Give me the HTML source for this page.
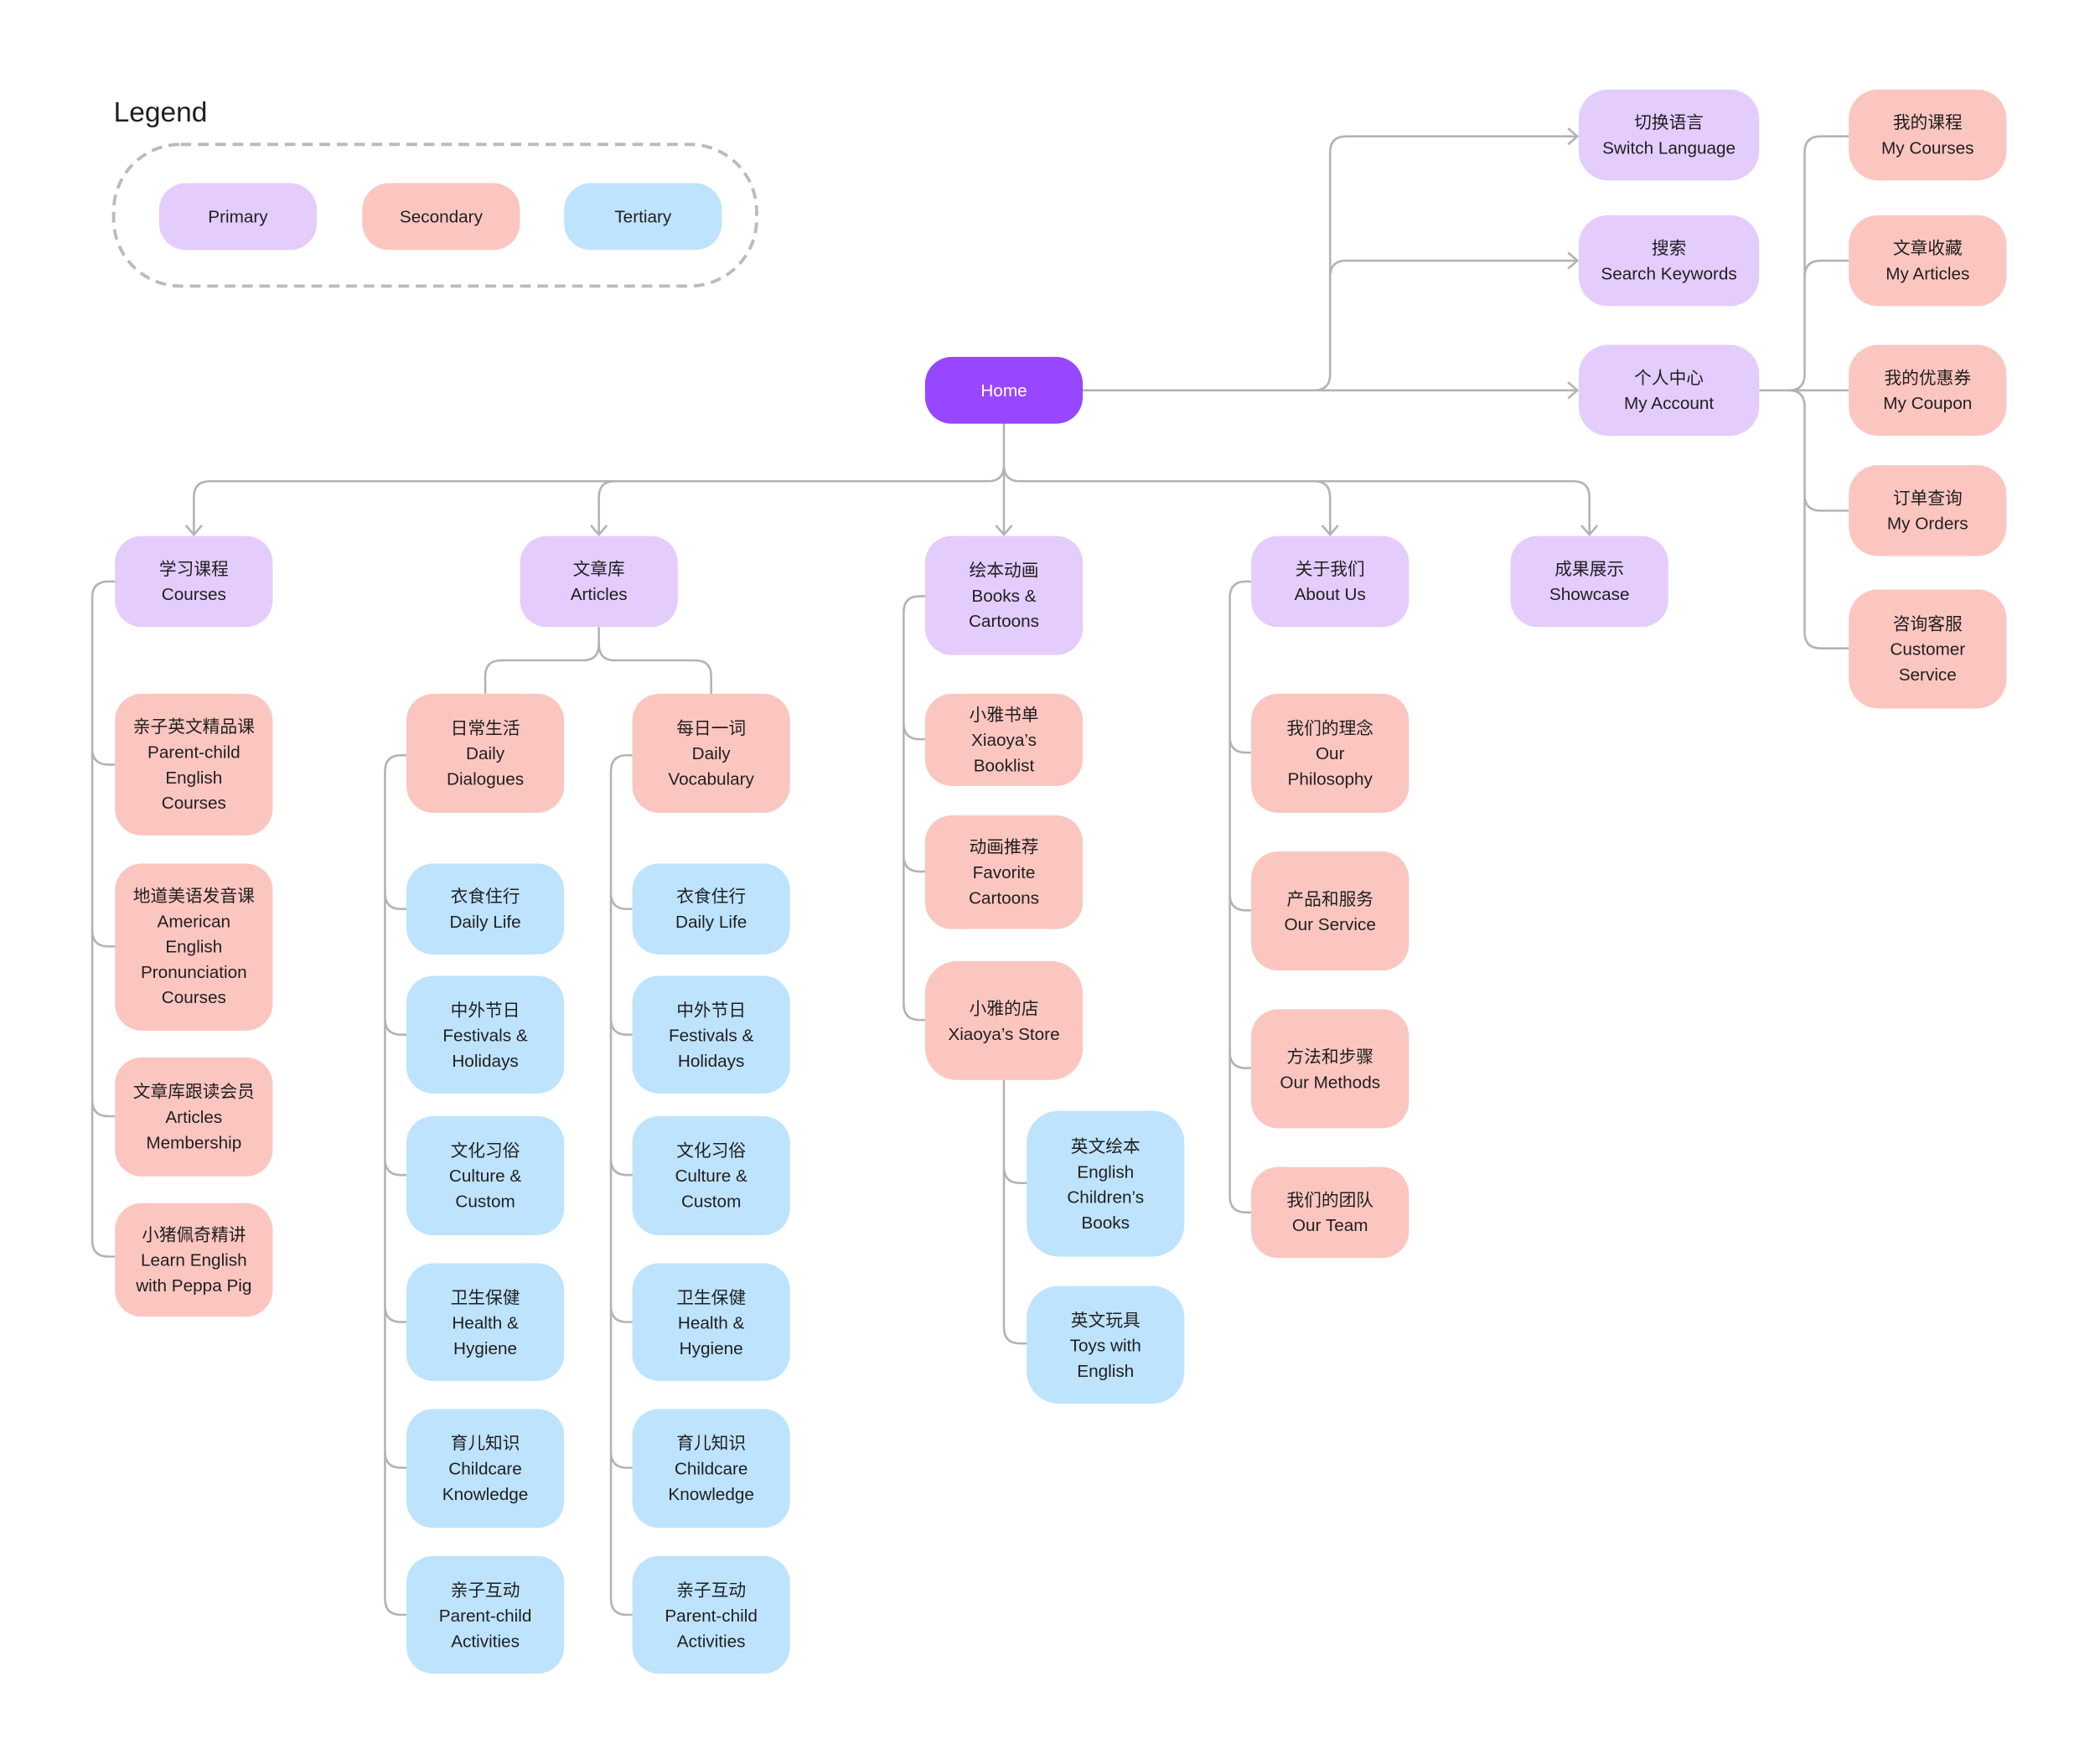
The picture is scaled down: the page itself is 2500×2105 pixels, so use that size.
<!DOCTYPE html>
<html><head><meta charset="utf-8"><style>
html,body{margin:0;padding:0;background:#fff;}
svg{display:block;}
text{font-family:"Liberation Sans","Noto Sans CJK SC",sans-serif;font-size:13px;fill:#1f1f1f;text-anchor:middle;}
.p{fill:#E4CCFC}.s{fill:#FCC6C0}.t{fill:#BEE3FD}
.c{fill:none;stroke:#b3b3b3;stroke-width:1.6;}
</style></head><body>
<svg width="2500" height="2105" viewBox="0 0 1567.2 1319.6" xmlns="http://www.w3.org/2000/svg">
<rect width="1567.2" height="1319.6" fill="#fff"/>
<text x="85" y="91" style="font-size:21px;text-anchor:start">Legend</text>
<rect x="85" y="108" width="481" height="106" rx="50" fill="none" stroke="#bbb" stroke-width="2.4" stroke-dasharray="8 5"/>
<rect class="p" x="119" y="137" width="118" height="50" rx="20"/><text x="178" y="166.5">Primary</text>
<rect class="s" x="271" y="137" width="118" height="50" rx="20"/><text x="330" y="166.5">Secondary</text>
<rect class="t" x="422" y="137" width="118" height="50" rx="20"/><text x="481" y="166.5">Tertiary</text>

<path class="c" d="M810 292 H1180 M983 292 Q995 292 995 280 V114 Q995 102 1007 102 H1180 M983 292 Q995 292 995 280 V207 Q995 195 1007 195 H1180"/>
<path class="c" d="M1173 96 L1180 102 L1173 108 M1173 189 L1180 195 L1173 201 M1173 286 L1180 292 L1173 298"/>
<path class="c" d="M751 317 V400 M751 348 Q751 360 739 360 H157 Q145 360 145 372 V400 M460 360 Q448 360 448 372 V400 M751 348 Q751 360 763 360 H1177 Q1189 360 1189 372 V400 M983 360 Q995 360 995 372 V400"/>
<path class="c" d="M139 393 L145 400 L151 393 M442 393 L448 400 L454 393 M745 393 L751 400 L757 393 M989 393 L995 400 L1001 393 M1183 393 L1189 400 L1195 393"/>
<path class="c" d="M1316 292 H1383 M1338 292 Q1350 292 1350 280 V114 Q1350 102 1362 102 H1383 M1350 207 Q1350 195 1362 195 H1383 M1338 292 Q1350 292 1350 304 V473 Q1350 485 1362 485 H1383 M1350 370 Q1350 382 1362 382 H1383"/>
<path class="c" d="M86 435 H81 Q69 435 69 447 V928 Q69 940 81 940 H86 M69 560 Q69 572 81 572 H86 M69 696 Q69 708 81 708 H86 M69 823 Q69 835 81 835 H86"/>
<path class="c" d="M448 469 V482 Q448 494 436 494 H375 Q363 494 363 506 V519 M448 482 Q448 494 460 494 H520 Q532 494 532 506 V519"/>
<path class="c" d="M304 565 H300 Q288 565 288 577 V1196 Q288 1208 300 1208 H304 M288 668 Q288 680 300 680 H304 M288 762 Q288 774 300 774 H304 M288 867 Q288 879 300 879 H304 M288 977 Q288 989 300 989 H304 M288 1086 Q288 1098 300 1098 H304"/>
<path class="c" d="M473 565 H469 Q457 565 457 577 V1196 Q457 1208 469 1208 H473 M457 668 Q457 680 469 680 H473 M457 762 Q457 774 469 774 H473 M457 867 Q457 879 469 879 H473 M457 977 Q457 989 469 989 H473 M457 1086 Q457 1098 469 1098 H473"/>
<path class="c" d="M692 446 H688 Q676 446 676 458 V751 Q676 763 688 763 H692 M676 541 Q676 553 688 553 H692 M676 640 Q676 652 688 652 H692"/>
<path class="c" d="M751 808 V993 Q751 1005 763 1005 H768 M751 873 Q751 885 763 885 H768"/>
<path class="c" d="M936 435 H932 Q920 435 920 447 V895 Q920 907 932 907 H936 M920 551 Q920 563 932 563 H936 M920 669 Q920 681 932 681 H936 M920 787 Q920 799 932 799 H936"/>

<rect x="692" y="267" width="118" height="50" rx="20" fill="#9747FF"/><text x="751" y="296.5" style="fill:#fff">Home</text>

<rect class="p" x="1181" y="67" width="135" height="68" rx="22"/><text x="1248.5" y="96">切换语言</text><text x="1248.5" y="115">Switch Language</text>
<rect class="p" x="1181" y="161" width="135" height="68" rx="22"/><text x="1248.5" y="190">搜索</text><text x="1248.5" y="209">Search Keywords</text>
<rect class="p" x="1181" y="258" width="135" height="68" rx="22"/><text x="1248.5" y="287">个人中心</text><text x="1248.5" y="306">My Account</text>

<rect class="s" x="1383" y="67" width="118" height="68" rx="22"/><text x="1442" y="96">我的课程</text><text x="1442" y="115">My Courses</text>
<rect class="s" x="1383" y="161" width="118" height="68" rx="22"/><text x="1442" y="190">文章收藏</text><text x="1442" y="209">My Articles</text>
<rect class="s" x="1383" y="258" width="118" height="68" rx="22"/><text x="1442" y="287">我的优惠券</text><text x="1442" y="306">My Coupon</text>
<rect class="s" x="1383" y="348" width="118" height="68" rx="22"/><text x="1442" y="377">订单查询</text><text x="1442" y="396">My Orders</text>
<rect class="s" x="1383" y="441" width="118" height="89" rx="22"/><text x="1442" y="471">咨询客服</text><text x="1442" y="490">Customer</text><text x="1442" y="509">Service</text>

<rect class="p" x="86" y="401" width="118" height="68" rx="20"/><text x="145" y="430">学习课程</text><text x="145" y="449">Courses</text>
<rect class="p" x="389" y="401" width="118" height="68" rx="20"/><text x="448" y="430">文章库</text><text x="448" y="449">Articles</text>
<rect class="p" x="692" y="401" width="118" height="89" rx="20"/><text x="751" y="431">绘本动画</text><text x="751" y="450">Books &amp;</text><text x="751" y="469">Cartoons</text>
<rect class="p" x="936" y="401" width="118" height="68" rx="20"/><text x="995" y="430">关于我们</text><text x="995" y="449">About Us</text>
<rect class="p" x="1130" y="401" width="118" height="68" rx="20"/><text x="1189" y="430">成果展示</text><text x="1189" y="449">Showcase</text>

<rect class="s" x="86" y="519" width="118" height="106" rx="20"/><text x="145" y="548">亲子英文精品课</text><text x="145" y="567">Parent-child</text><text x="145" y="586">English</text><text x="145" y="605">Courses</text>
<rect class="s" x="86" y="646" width="118" height="125" rx="20"/><text x="145" y="674.5">地道美语发音课</text><text x="145" y="693.5">American</text><text x="145" y="712.5">English</text><text x="145" y="731.5">Pronunciation</text><text x="145" y="750.5">Courses</text>
<rect class="s" x="86" y="791" width="118" height="89" rx="20"/><text x="145" y="821">文章库跟读会员</text><text x="145" y="840">Articles</text><text x="145" y="859">Membership</text>
<rect class="s" x="86" y="900" width="118" height="85" rx="20"/><text x="145" y="928">小猪佩奇精讲</text><text x="145" y="947">Learn English</text><text x="145" y="966">with Peppa Pig</text>

<rect class="s" x="304" y="519" width="118" height="89" rx="20"/><text x="363" y="549">日常生活</text><text x="363" y="568">Daily</text><text x="363" y="587">Dialogues</text>
<rect class="s" x="473" y="519" width="118" height="89" rx="20"/><text x="532" y="549">每日一词</text><text x="532" y="568">Daily</text><text x="532" y="587">Vocabulary</text>

<rect class="t" x="304" y="646" width="118" height="68" rx="20"/><text x="363" y="675">衣食住行</text><text x="363" y="694">Daily Life</text>
<rect class="t" x="304" y="730" width="118" height="88" rx="20"/><text x="363" y="760">中外节日</text><text x="363" y="779">Festivals &amp;</text><text x="363" y="798">Holidays</text>
<rect class="t" x="304" y="835" width="118" height="89" rx="20"/><text x="363" y="865">文化习俗</text><text x="363" y="884">Culture &amp;</text><text x="363" y="903">Custom</text>
<rect class="t" x="304" y="945" width="118" height="88" rx="20"/><text x="363" y="975">卫生保健</text><text x="363" y="994">Health &amp;</text><text x="363" y="1013">Hygiene</text>
<rect class="t" x="304" y="1054" width="118" height="89" rx="20"/><text x="363" y="1084">育儿知识</text><text x="363" y="1103">Childcare</text><text x="363" y="1122">Knowledge</text>
<rect class="t" x="304" y="1164" width="118" height="88" rx="20"/><text x="363" y="1194">亲子互动</text><text x="363" y="1213">Parent-child</text><text x="363" y="1232">Activities</text>

<rect class="t" x="473" y="646" width="118" height="68" rx="20"/><text x="532" y="675">衣食住行</text><text x="532" y="694">Daily Life</text>
<rect class="t" x="473" y="730" width="118" height="88" rx="20"/><text x="532" y="760">中外节日</text><text x="532" y="779">Festivals &amp;</text><text x="532" y="798">Holidays</text>
<rect class="t" x="473" y="835" width="118" height="89" rx="20"/><text x="532" y="865">文化习俗</text><text x="532" y="884">Culture &amp;</text><text x="532" y="903">Custom</text>
<rect class="t" x="473" y="945" width="118" height="88" rx="20"/><text x="532" y="975">卫生保健</text><text x="532" y="994">Health &amp;</text><text x="532" y="1013">Hygiene</text>
<rect class="t" x="473" y="1054" width="118" height="89" rx="20"/><text x="532" y="1084">育儿知识</text><text x="532" y="1103">Childcare</text><text x="532" y="1122">Knowledge</text>
<rect class="t" x="473" y="1164" width="118" height="88" rx="20"/><text x="532" y="1194">亲子互动</text><text x="532" y="1213">Parent-child</text><text x="532" y="1232">Activities</text>

<rect class="s" x="692" y="519" width="118" height="69" rx="20"/><text x="751" y="539">小雅书单</text><text x="751" y="558">Xiaoya’s</text><text x="751" y="577">Booklist</text>
<rect class="s" x="692" y="610" width="118" height="85" rx="20"/><text x="751" y="638">动画推荐</text><text x="751" y="657">Favorite</text><text x="751" y="676">Cartoons</text>
<rect class="s" x="692" y="719" width="118" height="89" rx="24"/><text x="751" y="759">小雅的店</text><text x="751" y="778">Xiaoya’s Store</text>
<rect class="t" x="768" y="831" width="118" height="109" rx="24"/><text x="827" y="862">英文绘本</text><text x="827" y="881">English</text><text x="827" y="900">Children’s</text><text x="827" y="919">Books</text>
<rect class="t" x="768" y="962" width="118" height="88" rx="24"/><text x="827" y="992">英文玩具</text><text x="827" y="1011">Toys with</text><text x="827" y="1030">English</text>

<rect class="s" x="936" y="519" width="118" height="89" rx="20"/><text x="995" y="549">我们的理念</text><text x="995" y="568">Our</text><text x="995" y="587">Philosophy</text>
<rect class="s" x="936" y="637" width="118" height="89" rx="20"/><text x="995" y="677">产品和服务</text><text x="995" y="696">Our Service</text>
<rect class="s" x="936" y="755" width="118" height="89" rx="20"/><text x="995" y="795">方法和步骤</text><text x="995" y="814">Our Methods</text>
<rect class="s" x="936" y="873" width="118" height="68" rx="20"/><text x="995" y="902">我们的团队</text><text x="995" y="921">Our Team</text>
</svg>
</body></html>
